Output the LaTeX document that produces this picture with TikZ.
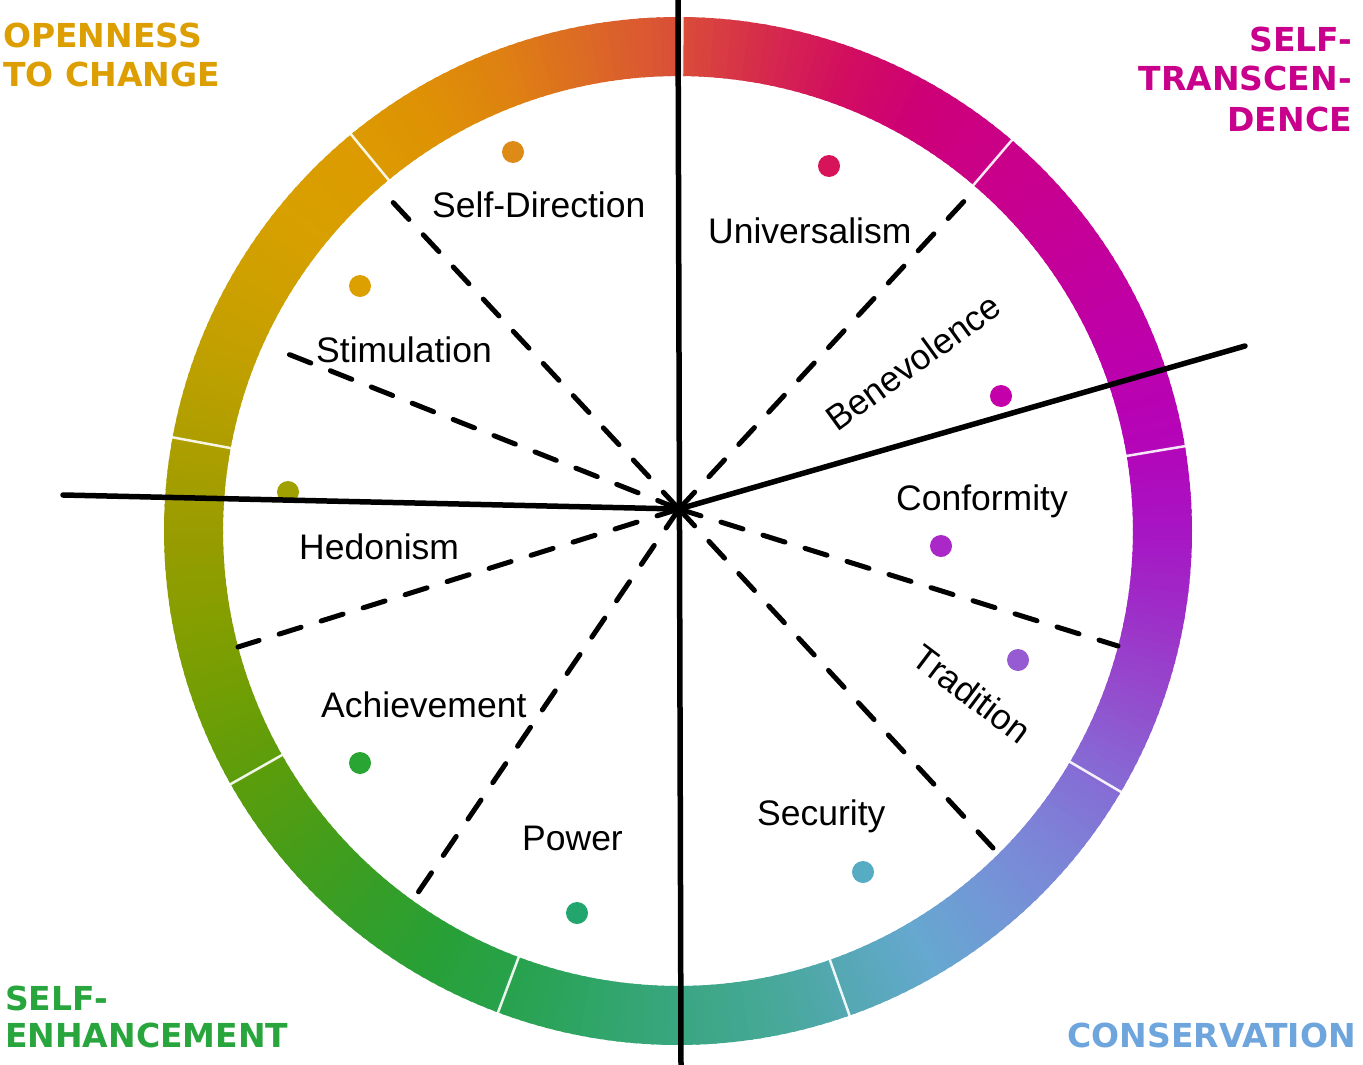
\documentclass[tikz,border=0pt]{standalone}
\usepackage{fontspec}
\setmainfont{Liberation Sans}
\newfontfamily\capfont{DejaVu Sans}
\definecolor{s0}{RGB}{168,20,195}
\definecolor{s1}{RGB}{180,5,185}
\definecolor{s2}{RGB}{188,0,172}
\definecolor{s3}{RGB}{194,0,160}
\definecolor{s4}{RGB}{198,0,148}
\definecolor{s5}{RGB}{202,0,135}
\definecolor{s6}{RGB}{206,0,118}
\definecolor{s7}{RGB}{210,15,95}
\definecolor{s8}{RGB}{214,45,75}
\definecolor{s9}{RGB}{218,80,55}
\definecolor{s10}{RGB}{220,105,38}
\definecolor{s11}{RGB}{222,128,18}
\definecolor{s12}{RGB}{222,145,5}
\definecolor{s13}{RGB}{220,155,0}
\definecolor{s14}{RGB}{216,160,0}
\definecolor{s15}{RGB}{205,160,0}
\definecolor{s16}{RGB}{190,160,0}
\definecolor{s17}{RGB}{172,158,0}
\definecolor{s18}{RGB}{152,156,0}
\definecolor{s19}{RGB}{133,158,0}
\definecolor{s20}{RGB}{112,158,5}
\definecolor{s21}{RGB}{90,157,12}
\definecolor{s22}{RGB}{70,157,25}
\definecolor{s23}{RGB}{52,158,40}
\definecolor{s24}{RGB}{40,160,55}
\definecolor{s25}{RGB}{40,162,78}
\definecolor{s26}{RGB}{48,165,105}
\definecolor{s27}{RGB}{58,166,130}
\definecolor{s28}{RGB}{70,168,150}
\definecolor{s29}{RGB}{85,168,180}
\definecolor{s30}{RGB}{102,168,208}
\definecolor{s31}{RGB}{115,150,215}
\definecolor{s32}{RGB}{125,130,215}
\definecolor{s33}{RGB}{135,105,212}
\definecolor{s34}{RGB}{148,75,205}
\definecolor{s35}{RGB}{158,45,200}
\definecolor{openc}{RGB}{220,158,0}
\definecolor{transc}{RGB}{200,0,140}
\definecolor{enhc}{RGB}{40,165,60}
\definecolor{consc}{RGB}{110,165,220}
\begin{document}
\begin{tikzpicture}[x=1pt,y=-1pt,
  dot/.style={circle,inner sep=0pt,minimum size=22pt,draw=none},
  lbl/.style={font=\fontsize{35.5}{40}\selectfont,inner sep=0pt,text=black},
  captxt/.style={font=\capfont\bfseries\fontsize{33}{39}\selectfont,inner sep=0pt},
  solidln/.style={line width=5.5pt,line cap=round,black},
  dashln/.style={line width=5pt,line cap=round,black,dash pattern=on 23pt off 21pt}]
\fill[white] (0,0) rectangle (1363,1065);
\useasboundingbox (0,0) rectangle (1363,1065);
% ring
\begin{scope}[shift={(678,531)}]
\foreach \a in {0,...,359}{
  \pgfmathtruncatemacro\i{floor(\a/10)}
  \pgfmathtruncatemacro\j{mod(\i+1,36)}
  \pgfmathtruncatemacro\p{100-10*(\a-10*\i)}
  \fill[color=s\i!\p!s\j] (-\a:455) -- (-\a:514) -- ({-\a-1.4}:514) -- ({-\a-1.4}:455) -- cycle;
}
\foreach \t in {9.5,49.5,...,329.5}
  \draw[white,line width=2.5pt,opacity=0.9] (-\t:452) -- (-\t:517);
\end{scope}
% dots
\node[dot,fill={rgb,255:red,222;green,138;blue,22}] (p1) at (513,152) {};
\node[dot,fill={rgb,255:red,220;green,160;blue,0}] (p2) at (360,286) {};
\node[dot,fill={rgb,255:red,160;green,160;blue,0}] (p3) at (288,492) {};
\node[dot,fill={rgb,255:red,40;green,165;blue,50}] (p4) at (360,763) {};
\node[dot,fill={rgb,255:red,35;green,165;blue,110}] (p5) at (577,913) {};
\node[dot,fill={rgb,255:red,85;green,172;blue,195}] (p6) at (863,872) {};
\node[dot,fill={rgb,255:red,150;green,90;blue,210}] (p7) at (1018,660) {};
\node[dot,fill={rgb,255:red,170;green,40;blue,200}] (p8) at (941,546) {};
\node[dot,fill={rgb,255:red,195;green,0;blue,170}] (p9) at (1001,396) {};
\node[dot,fill={rgb,255:red,215;green,20;blue,90}] (p10) at (829,166) {};
% lines
\coordinate (C) at (679,509);
\coordinate (vt) at (678,0);
\coordinate (vb) at (681,1065);
\coordinate (hl) at (63,495);
\coordinate (hr) at (1245,346);
\coordinate (d1) at (388,197);
\coordinate (d2) at (283,352);
\coordinate (d3) at (238,647);
\coordinate (d4) at (415,897);
\coordinate (d5) at (993,848);
\coordinate (d6) at (1118,646);
\coordinate (d7) at (968,197);
\foreach \d in {d1,d2,d3,d4,d5,d6,d7}
  \draw[dashln] (C) -- (\d);
\draw[solidln,line cap=butt] (vt) -- (vb);
\draw[solidln] (hl) -- (C);
\draw[solidln] (C) -- (hr);
% labels
\node[lbl,anchor=base west] (lsd) at (432,217) {Self-Direction};
\node[lbl,anchor=base west] (lun) at (708,243) {Universalism};
\node[lbl,anchor=base west] (lst) at (316,362) {Stimulation};
\node[lbl,anchor=base west] (lco) at (896,510) {Conformity};
\node[lbl,anchor=base west] (lhe) at (299,559) {Hedonism};
\node[lbl,anchor=base west] (lac) at (321,717) {Achievement};
\node[lbl,anchor=base west] (lpo) at (522,850) {Power};
\node[lbl,anchor=base west] (lse) at (757,825) {Security};
\node[lbl,rotate=36] (lbe) at (913,362) {Benevolence};
\node[lbl,rotate=-37] (ltr) at (972,694) {Tradition};
% corner captions
\node[captxt,text=openc,anchor=base west] (o1) at (3,48) {OPENNESS};
\node[captxt,text=openc,anchor=base west] (o2) at (3,87) {TO CHANGE};
\node[captxt,text=transc,anchor=base east] (t1) at (1352,52) {SELF-};
\node[captxt,text=transc,anchor=base east] (t2) at (1352,91) {TRANSCEN-};
\node[captxt,text=transc,anchor=base east] (t3) at (1352,131) {DENCE};
\node[captxt,text=enhc,anchor=base west] (e1) at (5,1010) {SELF-};
\node[captxt,text=enhc,anchor=base west] (e2) at (5,1047) {ENHANCEMENT};
\node[captxt,text=consc,anchor=base east] (c1) at (1356,1047) {CONSERVATION};
\end{tikzpicture}
\end{document}
